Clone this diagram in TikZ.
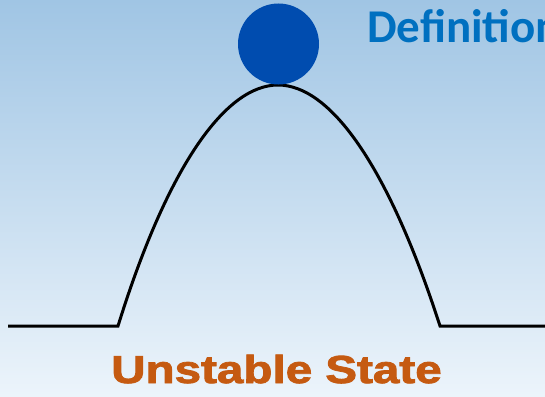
\documentclass[tikz,border=0pt]{standalone}
\usepackage{fontspec}
\newfontfamily\titlefont{Carlito}
\newfontfamily\labelfont[FakeBold=2]{Liberation Sans Bold}
\definecolor{skytop}{RGB}{160,197,228}
\definecolor{skybot}{RGB}{236,244,251}
\definecolor{ballblue}{RGB}{0,76,175}
\definecolor{titleblue}{RGB}{0,112,192}
\definecolor{statecol}{RGB}{197,90,17}

\begin{document}
\begin{tikzpicture}[x=1pt,y=-1pt, ball/.style={circle,fill=ballblue,minimum size=81pt,inner sep=0pt}, hill/.style={line width=3pt,line join=miter,black}, title/.style={anchor=base west,inner sep=0pt,text=titleblue,font=\titlefont\bfseries\fontsize{47}{47}\selectfont}, state/.style={anchor=base west,inner sep=0pt,text=statecol,xscale=1.22,transform shape,font=\labelfont\fontsize{39}{39}\selectfont}]
\useasboundingbox (0,0) rectangle (545,396);
\clip (0,0) rectangle (545,396);
\fill[top color=skytop,bottom color=skybot] (0,0) rectangle (545,396);
\coordinate (L) at (8,326);
\coordinate (A) at (118,326);
\coordinate (P) at (278,85);
\coordinate (B) at (440,326);
\coordinate (R) at (546,326);
\draw[hill] (L) -- (A) .. controls (168,165) and (226,85) .. (P) .. controls (330,85) and (388,165) .. (B) -- (R);
\node[ball] (top) at (278.5,44) {};
\node[title] (defn) at (367,42) {Definition};
\node[state] (unst) at (111,383) {Unstable State};
\end{tikzpicture}
\end{document}
